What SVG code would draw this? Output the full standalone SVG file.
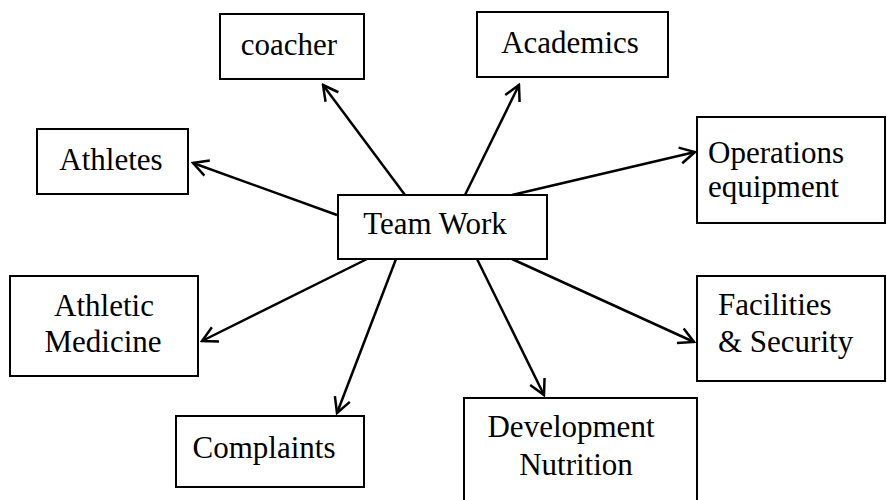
<svg xmlns="http://www.w3.org/2000/svg" width="887" height="500" viewBox="0 0 887 500">
<style>
.box{fill:#fff;stroke:#000;stroke-width:2}
text{font-family:'Liberation Serif','Times New Roman','DejaVu Serif',serif;font-size:31px;fill:#000}
.m{text-anchor:middle}
.c{fill:none;stroke:#000;stroke-width:2.5}
</style>
<defs>
<marker id="ah" viewBox="-17 -10 19 20" markerWidth="19" markerHeight="20" refX="0" refY="0" markerUnits="userSpaceOnUse" orient="auto">
<path d="M-15,-8 L0,0 L-15,8" fill="none" stroke="#000" stroke-width="2.5"/>
</marker>
</defs>
<rect width="887" height="500" fill="#fff"/>
<g id="connectors">
<line class="c" x1="405" y1="195" x2="323" y2="85" marker-end="url(#ah)"/>
<line class="c" x1="337" y1="215" x2="193" y2="163" marker-end="url(#ah)"/>
<line class="c" x1="465" y1="195" x2="519" y2="85" marker-end="url(#ah)"/>
<line class="c" x1="512" y1="195" x2="695" y2="152" marker-end="url(#ah)"/>
<line class="c" x1="367" y1="259" x2="202" y2="341" marker-end="url(#ah)"/>
<line class="c" x1="396" y1="259" x2="337" y2="413" marker-end="url(#ah)"/>
<line class="c" x1="477" y1="259" x2="544" y2="395" marker-end="url(#ah)"/>
<line class="c" x1="512" y1="259" x2="694" y2="342" marker-end="url(#ah)"/>
</g>
<g id="teamwork">
<rect class="box" x="338" y="195" width="209" height="64"/>
<text class="m" x="435" y="234" font-family="Liberation Serif, serif">Team Work</text>
</g>
<g id="coacher">
<rect class="box" x="220" y="14" width="144" height="65"/>
<text class="m" x="289" y="55" font-family="Liberation Serif, serif">coacher</text>
</g>
<g id="athletes">
<rect class="box" x="37" y="129" width="151" height="65"/>
<text class="m" x="111" y="170" font-family="Liberation Serif, serif">Athletes</text>
</g>
<g id="academics">
<rect class="box" x="477" y="12" width="191" height="65"/>
<text class="m" x="570" y="53" font-family="Liberation Serif, serif">Academics</text>
</g>
<g id="operations">
<rect class="box" x="697" y="117" width="188" height="106"/>
<text x="708" y="163" font-family="Liberation Serif, serif">Operations</text>
<text x="708" y="197" font-family="Liberation Serif, serif">equipment</text>
</g>
<g id="athletic-medicine">
<rect class="box" x="10" y="276" width="188" height="100"/>
<text class="m" x="104" y="316" font-family="Liberation Serif, serif">Athletic</text>
<text class="m" x="103" y="352" font-family="Liberation Serif, serif">Medicine</text>
</g>
<g id="facilities">
<rect class="box" x="697" y="276" width="188" height="105"/>
<text x="718" y="315" font-family="Liberation Serif, serif">Facilities</text>
<text x="718" y="352" font-family="Liberation Serif, serif">&amp; Security</text>
</g>
<g id="complaints">
<rect class="box" x="176" y="416" width="188" height="71"/>
<text class="m" x="264" y="458" font-family="Liberation Serif, serif">Complaints</text>
</g>
<g id="development">
<rect class="box" x="464" y="398" width="233" height="112"/>
<text class="m" x="571" y="437" font-family="Liberation Serif, serif">Development</text>
<text class="m" x="576" y="475" font-family="Liberation Serif, serif">Nutrition</text>
</g>
</svg>
